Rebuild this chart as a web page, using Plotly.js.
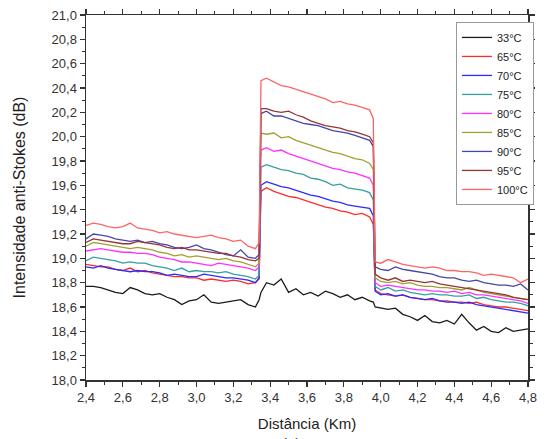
<!DOCTYPE html>
<html>
<head>
<meta charset="utf-8">
<script src="https://cdn.plot.ly/plotly-3.0.1.min.js"></script>
<style>html,body{margin:0;padding:0;background:#fff;}#chart{width:546px;height:439px;}</style>
</head>
<body>
<div id="chart"></div>
<script>
// Distance (km)
const distance = [2.40,2.44,2.48,2.52,2.56,2.60,2.64,2.68,2.72,2.76,2.80,2.84,2.88,2.92,2.96,3.00,3.04,3.08,3.12,3.16,3.20,3.24,3.28,3.32,3.34,3.35,3.38,3.42,3.46,3.50,3.54,3.58,3.62,3.66,3.70,3.74,3.78,3.82,3.86,3.90,3.94,3.96,3.97,4.00,4.04,4.08,4.12,4.16,4.20,4.24,4.28,4.32,4.36,4.40,4.44,4.48,4.52,4.56,4.60,4.64,4.68,4.72,4.76,4.80];

const labels = ["33°C","65°C","70°C","75°C","80°C","85°C","90°C","95°C","100°C"];
const colors = ["#1a1a1a","#ff2b2b","#2b2bff","#36a0a0","#ff30ff","#a0a030","#4646a8","#963535","#ff6464"];

const t33 = [18.77,18.77,18.76,18.74,18.72,18.71,18.76,18.74,18.71,18.70,18.71,18.68,18.66,18.62,18.65,18.66,18.70,18.64,18.63,18.64,18.65,18.66,18.62,18.60,
  18.66,18.72,
  18.80,18.78,18.83,18.72,18.75,18.70,18.72,18.69,18.73,18.71,18.68,18.70,18.66,18.68,18.65,
  18.64,18.60,
  18.59,18.58,18.59,18.54,18.52,18.49,18.53,18.48,18.47,18.49,18.46,18.54,18.47,18.41,18.44,18.40,18.39,18.43,18.40,18.41,18.42];

const t65 = [18.95,18.94,18.93,18.93,18.91,18.90,18.92,18.89,18.90,18.88,18.87,18.86,18.85,18.85,18.84,18.84,18.82,18.83,18.82,18.81,18.82,18.81,18.79,18.80,
  18.83,19.55,
  19.58,19.55,19.53,19.51,19.50,19.48,19.46,19.44,19.42,19.41,19.39,19.38,19.36,19.37,19.34,
  19.28,18.74,
  18.71,18.70,18.69,18.70,18.68,18.67,18.66,18.66,18.65,18.65,18.64,18.64,18.63,18.64,18.62,18.61,18.60,18.60,18.59,18.58,18.57];

const t70 = [18.93,18.92,18.94,18.92,18.91,18.90,18.89,18.90,18.89,18.89,18.88,18.86,18.87,18.86,18.85,18.85,18.87,18.86,18.85,18.84,18.84,18.83,18.82,18.80,
  18.84,19.60,
  19.63,19.61,19.59,19.58,19.56,19.54,19.52,19.51,19.49,19.47,19.46,19.44,19.43,19.42,19.41,
  19.35,18.73,
  18.70,18.71,18.69,18.70,18.68,18.67,18.66,18.67,18.65,18.64,18.64,18.63,18.64,18.62,18.61,18.60,18.59,18.58,18.57,18.56,18.55];

const t75 = [18.98,19.01,19.00,18.99,18.98,18.96,18.97,18.96,18.96,18.94,18.93,18.92,18.90,18.92,18.89,18.90,18.89,18.89,18.88,18.89,18.87,18.86,18.85,18.83,
  18.86,19.75,
  19.77,19.75,19.73,19.72,19.70,19.69,19.66,19.65,19.63,19.60,19.61,19.58,19.57,19.56,19.54,
  19.48,18.77,
  18.74,18.76,18.73,18.74,18.72,18.71,18.70,18.71,18.70,18.70,18.69,18.69,18.70,18.67,18.68,18.66,18.65,18.64,18.64,18.63,18.61];

const t80 = [19.06,19.07,19.08,19.07,19.06,19.05,19.05,19.04,19.04,19.03,19.01,19.00,18.99,18.97,18.97,18.96,18.95,18.94,18.96,18.95,18.94,18.93,18.92,18.90,
  18.93,19.89,
  19.91,19.88,19.89,19.86,19.84,19.82,19.80,19.78,19.76,19.74,19.73,19.71,19.70,19.68,19.66,
  19.60,18.80,
  18.77,18.78,18.77,18.76,18.75,18.74,18.74,18.73,18.73,18.72,18.73,18.71,18.72,18.70,18.70,18.69,18.68,18.67,18.66,18.65,18.63];

const t85 = [19.10,19.13,19.12,19.11,19.10,19.09,19.08,19.09,19.08,19.07,19.05,19.04,19.02,19.03,19.01,19.02,19.01,19.00,18.99,19.00,18.98,18.97,18.95,18.93,
  18.96,20.03,
  20.02,20.03,19.99,20.00,19.97,19.95,19.93,19.91,19.89,19.87,19.86,19.84,19.82,19.81,19.78,
  19.73,18.84,
  18.81,18.80,18.81,18.79,18.80,18.78,18.77,18.77,18.76,18.76,18.75,18.74,18.76,18.74,18.72,18.71,18.70,18.69,18.68,18.67,18.66];

const t90 = [19.16,19.20,19.19,19.18,19.16,19.15,19.14,19.15,19.13,19.14,19.12,19.11,19.09,19.08,19.09,19.11,19.08,19.07,19.05,19.03,19.02,19.07,19.01,19.00,
  19.03,20.19,
  20.21,20.17,20.17,20.15,20.13,20.11,20.10,20.09,20.07,20.05,20.04,20.03,20.01,19.99,19.97,
  19.92,18.93,
  18.91,18.90,18.93,18.91,18.90,18.89,18.88,18.87,18.85,18.84,18.84,18.82,18.81,18.82,18.80,18.79,18.78,18.78,18.77,18.79,18.74];

const t95 = [19.13,19.16,19.15,19.14,19.13,19.12,19.12,19.14,19.13,19.12,19.11,19.09,19.08,19.09,19.07,19.07,19.06,19.05,19.04,19.04,19.02,19.01,18.99,18.98,
  19.00,20.23,
  20.23,20.21,20.20,20.21,20.18,20.16,20.13,20.11,20.09,20.08,20.07,20.05,20.04,20.02,20.00,
  19.95,18.87,
  18.84,18.82,18.84,18.81,18.82,18.81,18.80,18.81,18.79,18.78,18.77,18.76,18.75,18.74,18.73,18.72,18.71,18.70,18.68,18.67,18.66];

const t100 = [19.27,19.29,19.28,19.26,19.25,19.26,19.29,19.25,19.24,19.23,19.21,19.22,19.20,19.19,19.18,19.17,19.18,19.19,19.17,19.16,19.14,19.15,19.10,19.08,
  19.13,20.46,
  20.48,20.45,20.42,20.41,20.39,20.37,20.35,20.33,20.31,20.28,20.29,20.27,20.26,20.24,20.22,
  20.15,18.97,
  18.96,18.99,18.97,18.95,18.94,18.93,18.92,18.93,18.92,18.90,18.90,18.89,18.89,18.88,18.86,18.87,18.86,18.85,18.84,18.80,18.83];

const series = [t33, t65, t70, t75, t80, t85, t90, t95, t100];

const traces = series.map((ys, i) => ({
  type: 'scatter', mode: 'lines', x: distance, y: ys, name: labels[i],
  line: {color: colors[i], width: 1.3}
}));

const font = "Arial, 'Liberation Sans', sans-serif";
const axisCommon = {
  showline: true, linecolor: '#333', linewidth: 1.5, mirror: 'allticks',
  ticks: 'outside', ticklen: 5, tickwidth: 1.2, tickcolor: '#333',
  showgrid: false, zeroline: false, tickformat: '.1f',
  tickfont: {family: font, size: 13, color: '#333'}
};

const layout = {
  width: 546, height: 439,
  margin: {l: 86, r: 13, t: 15, b: 59},
  paper_bgcolor: '#fff', plot_bgcolor: '#fff',
  separators: ',.',
  font: {family: font, color: '#222'},
  showlegend: true,
  legend: {x: 0.837, y: 0.981, xanchor: 'left', yanchor: 'top',
    bgcolor: '#fff', bordercolor: '#999', borderwidth: 1,
    font: {family: font, size: 11, color: '#222'}, tracegroupgap: 0},
  xaxis: Object.assign({}, axisCommon, {
    range: [2.4, 4.8], tick0: 2.4, dtick: 0.2,
    minor: {ticks: 'outside', ticklen: 3, dtick: 0.1, tickcolor: '#333', tickwidth: 1},
    title: {text: 'Distância (Km)', font: {family: font, size: 15, color: '#222'}, standoff: 14}
  }),
  yaxis: Object.assign({}, axisCommon, {
    range: [18, 21], tick0: 18, dtick: 0.2,
    minor: {ticks: 'outside', ticklen: 3, dtick: 0.1, tickcolor: '#333', tickwidth: 1},
    title: {text: 'Intensidade anti-Stokes (dB)', font: {family: font, size: 16, color: '#222'}, standoff: 22}
  }),
  annotations: [{
    text: '(a)', xref: 'paper', yref: 'paper', x: 0.463, y: -0.145,
    xanchor: 'center', yanchor: 'top', showarrow: false,
    font: {family: font, size: 15, color: '#222'}
  }]
};

Plotly.newPlot('chart', traces, layout, {displayModeBar: false, staticPlot: true});
</script>
</body>
</html>
